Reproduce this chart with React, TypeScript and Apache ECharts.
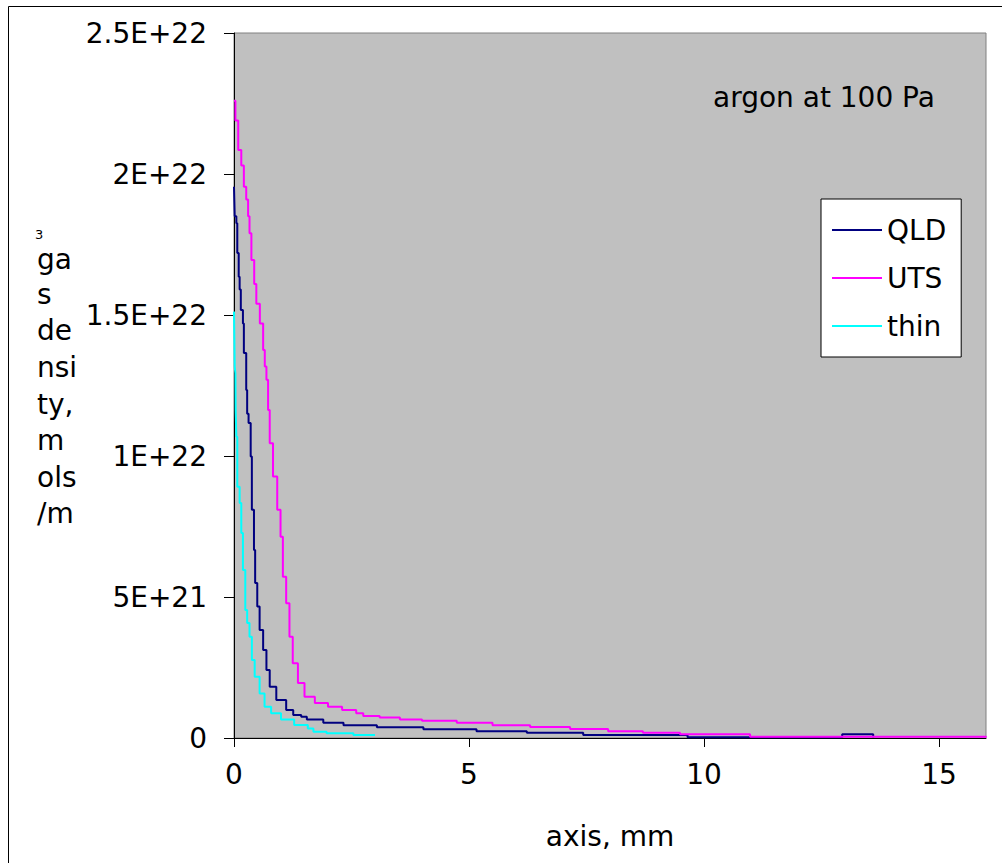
import React, { useEffect, useRef } from "react";
import * as echarts from "echarts";

const seriesNames = ["QLD", "UTS", "thin"];
const seriesColors = ["#000080", "#FF00FF", "#00FFFF"];
const xTickValues = [0, 5, 10, 15];
const yTickLabels = ["0", "5E+21", "1E+22", "1.5E+22", "2E+22", "2.5E+22"];
const yTitleLines = ["s", "de", "nsi", "ty,", "m", "ols", "/m"];

const qldX = [0, 0.015, 0.05, 0.07, 0.1, 0.12, 0.145, 0.19, 0.21, 0.26, 0.28, 0.31, 0.355, 0.38, 0.425, 0.45, 0.495, 0.545, 0.62, 0.69, 0.76, 0.9, 1.11, 1.26, 1.43, 1.55, 1.9, 2.33, 3.04, 4.03, 5.16, 6.23, 7.43, 9.65, 10.94, 12.94, 13.6];
const qldY = [1.955e22, 1.85e22, 1.825e22, 1.72e22, 1.636e22, 1.59e22, 1.518e22, 1.47e22, 1.365e22, 1.234e22, 1.15e22, 1.117e22, 0.998e22, 0.809e22, 0.667e22, 0.55e22, 0.466e22, 0.383e22, 0.312e22, 0.241e22, 0.182e22, 0.135e22, 0.099e22, 0.0816e22, 0.0755e22, 0.066e22, 0.054e22, 0.045e22, 0.038e22, 0.031e22, 0.024e22, 0.019e22, 0.011e22, 0.0025e22, 0.0025e22, 0.013e22, 0.002e22];

const utsX = [0, 0.03, 0.09, 0.155, 0.21, 0.26, 0.3, 0.33, 0.37, 0.43, 0.475, 0.55, 0.62, 0.655, 0.69, 0.725, 0.76, 0.83, 0.92, 0.99, 1.04, 1.11, 1.18, 1.25, 1.36, 1.5, 1.72, 2.0, 2.3, 2.6, 2.75, 3.1, 3.53, 4.0, 4.74, 5.5, 6.3, 7.15, 7.96, 8.7, 9.49, 10.98, 16];
const utsY = [2.26e22, 2.19e22, 2.085e22, 2.03e22, 1.955e22, 1.91e22, 1.85e22, 1.79e22, 1.695e22, 1.61e22, 1.54e22, 1.47e22, 1.376e22, 1.317e22, 1.27e22, 1.163e22, 1.045e22, 0.927e22, 0.809e22, 0.714e22, 0.572e22, 0.478e22, 0.359e22, 0.265e22, 0.195e22, 0.146e22, 0.124e22, 0.111e22, 0.099e22, 0.0875e22, 0.078e22, 0.073e22, 0.066e22, 0.061e22, 0.054e22, 0.045e22, 0.039e22, 0.032e22, 0.024e22, 0.019e22, 0.013e22, 0.0046e22, 0.002e22];

const thinX = [0, 0.015, 0.03, 0.035, 0.05, 0.07, 0.12, 0.155, 0.19, 0.24, 0.28, 0.33, 0.38, 0.44, 0.545, 0.65, 0.79, 1.0, 1.28, 1.57, 1.69, 1.97, 2.54, 3.0];
const thinY = [1.512e22, 1.317e22, 1.294e22, 1.163e22, 1.068e22, 0.891e22, 0.833e22, 0.727e22, 0.596e22, 0.454e22, 0.408e22, 0.359e22, 0.277e22, 0.217e22, 0.158e22, 0.111e22, 0.0875e22, 0.066e22, 0.046e22, 0.034e22, 0.022e22, 0.017e22, 0.011e22, 0.011e22];

const FONT = "'DejaVu Sans', sans-serif";

function zip(xs: number[], ys: number[]) {
  return xs.map((x, i) => [x, ys[i]]);
}

export default function App() {
  const ref = useRef<HTMLDivElement>(null);
  useEffect(() => {
    if (!ref.current) return;
    const chart = echarts.init(ref.current, null, { renderer: "svg" });
    const data = [zip(qldX, qldY), zip(utsX, utsY), zip(thinX, thinY)];
    chart.setOption({
      animation: false,
      backgroundColor: "#ffffff",
      textStyle: { fontFamily: FONT, color: "#000" },
      grid: {
        left: 234,
        right: 16,
        top: 33,
        bottom: 125,
        show: true,
        backgroundColor: "#C0C0C0",
        borderColor: "#808080",
        borderWidth: 1,
      },
      xAxis: {
        type: "value",
        min: 0,
        max: 16,
        interval: 5,
        name: "axis, mm",
        nameLocation: "middle",
        nameGap: 84,
        nameTextStyle: { fontSize: 28, color: "#000", fontFamily: FONT },
        axisLine: { show: true, lineStyle: { color: "#000", width: 1 } },
        axisTick: { show: true, length: 9, customValues: xTickValues, lineStyle: { color: "#000" } },
        axisLabel: { customValues: xTickValues, fontSize: 28, color: "#000", fontFamily: FONT, margin: 22 },
        splitLine: { show: false },
      },
      yAxis: {
        type: "value",
        min: 0,
        max: 2.5e22,
        interval: 5e21,
        axisLine: { show: true, lineStyle: { color: "#000", width: 1 } },
        axisTick: { show: true, length: 10, lineStyle: { color: "#000" } },
        axisLabel: {
          fontSize: 28,
          color: "#000",
          fontFamily: FONT,
          margin: 27,
          formatter: (v: number) => yTickLabels[Math.round(v / 5e21)] ?? "",
        },
        splitLine: { show: false },
      },
      legend: {
        data: seriesNames,
        orient: "vertical",
        left: 821,
        top: 199,
        backgroundColor: "#ffffff",
        borderColor: "#000",
        borderWidth: 1,
        borderRadius: 0,
        padding: [16, 15, 16, 11],
        itemGap: 18,
        itemWidth: 50,
        itemHeight: 2,
        itemTextGap: 11,
        icon: "rect",
        textStyle: { fontSize: 28, lineHeight: 30, color: "#000", fontFamily: FONT },
      },
      series: seriesNames.map((name, i) => ({
        name,
        type: "line",
        step: "end",
        data: data[i],
        showSymbol: false,
        symbol: "none",
        lineStyle: { color: seriesColors[i], width: 2 },
        itemStyle: { color: seriesColors[i] },
        z: 2 + i,
      })),
      graphic: [
        {
          type: "rect",
          shape: { x: 8.5, y: 6.5, width: 1200, height: 1200 },
          style: { fill: "none", stroke: "#000", lineWidth: 1 },
          silent: true,
          z: 100,
        },
        {
          type: "text",
          x: 713,
          y: 97,
          style: { text: "argon at 100 Pa", fontSize: 28, fontFamily: FONT, fill: "#000", textVerticalAlign: "middle" },
          z: 100,
        },
        {
          type: "text",
          x: 35,
          y: 234,
          style: { text: "3", fontSize: 13, lineHeight: 10, fontFamily: FONT, fill: "#000", textVerticalAlign: "middle" },
          z: 100,
        },
        {
          type: "text",
          x: 37,
          y: 259,
          style: { text: "ga", fontSize: 28, lineHeight: 22, fontFamily: FONT, fill: "#000", textVerticalAlign: "middle" },
          z: 100,
        },
        {
          type: "text",
          x: 37,
          y: 276,
          style: {
            text: yTitleLines.join("\n"),
            fontSize: 28,
            lineHeight: 36.6,
            fontFamily: FONT,
            fill: "#000",
            textVerticalAlign: "top",
          },
          z: 100,
        },
      ],
    });
    return () => chart.dispose();
  }, []);
  return (
    <div
      ref={ref}
      style={{ position: "absolute", left: 0, top: 0, width: 1002, height: 863, background: "#fff" }}
    />
  );
}
